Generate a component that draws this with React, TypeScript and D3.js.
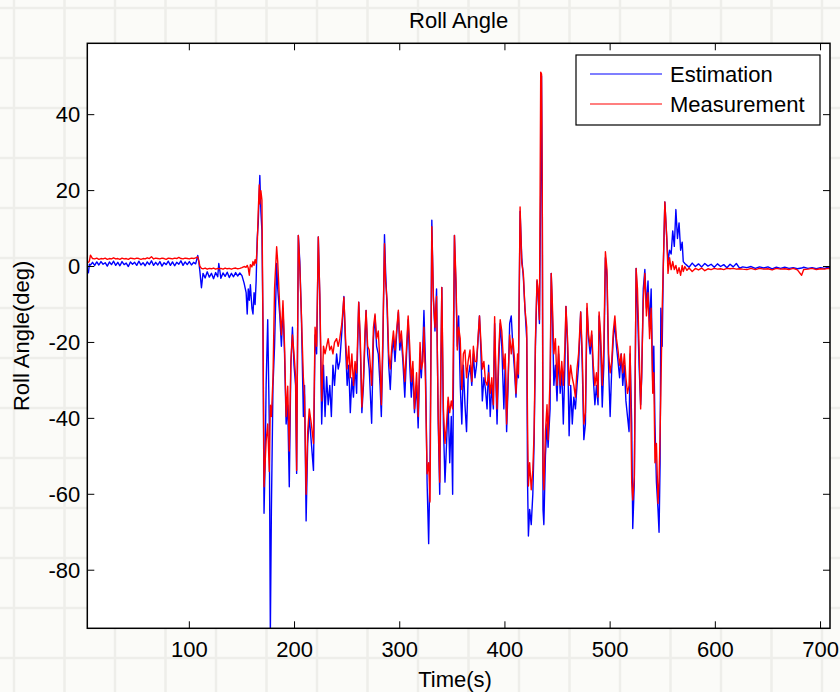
import React from "react";
import * as d3 from "d3";

// time axis (s) and the two roll angle traces (deg)
const timeS = [
  4, 5, 6, 8, 10, 12, 14, 16, 18, 20,
  22, 24, 26, 28, 30, 32, 34, 36, 38, 40,
  42, 44, 46, 48, 50, 52, 54, 56, 58, 60,
  62, 64, 66, 68, 70, 72, 74, 76, 78, 80,
  82, 84, 86, 88, 90, 92, 94, 96, 98, 100,
  102, 104, 106, 108, 109, 110, 111.5, 113, 115, 117,
  119, 121, 123, 125, 127, 128, 130, 132, 134, 136,
  138, 140, 142, 144, 146, 148, 150, 152, 154, 155,
  156, 157, 158, 159.5, 160.5, 161.5, 162.5, 163.5, 164.5, 165.5,
  166.5, 167, 168, 169, 170, 171, 172, 173, 174.5, 176,
  177, 178, 179.5, 181, 183, 184, 186, 187.5, 189, 190.5,
  192, 193.5, 195, 196.5, 198, 199.5, 201, 202, 203.6, 205,
  206.5, 208.4, 209.5, 211, 212.5, 214, 216, 218, 219.5, 221,
  222.6, 224, 225.8, 227.5, 229, 230.5, 232, 233.5, 235, 236.5,
  238, 240, 241.5, 243, 245, 246.9, 248.5, 250, 251.5, 253,
  254.5, 256, 257.5, 259, 261, 262.5, 264, 265.5, 267, 268,
  269.5, 271, 273.3, 275, 276.5, 278, 279.6, 281.3, 282.5, 284,
  285.5, 286.5, 288, 289.5, 291, 292.5, 294, 295.5, 297, 298.7,
  300, 301.5, 303, 304.8, 306.5, 308, 309.5, 311, 312.5, 314,
  316, 317.5, 319.3, 320.5, 322, 323, 324.5, 326, 327.5, 328.8,
  330.5, 332, 333.5, 335, 336.6, 338, 339, 340, 341.5, 343,
  344.5, 346, 347.5, 349, 350.3, 352, 353.5, 354.7, 356, 357.5,
  359, 360.5, 362, 363.5, 365, 366.8, 368.5, 370, 371.5, 373,
  375.8, 377, 378.5, 380, 381.5, 383, 384.5, 386, 387.5, 389,
  390.2, 391.5, 392.5, 394, 395.5, 397, 399, 400.3, 401.6, 403,
  404.5, 406, 407.5, 409, 410.5, 412, 412.8, 414.4, 416, 417.5,
  419, 420.7, 421.5, 422.3, 423.5, 425, 426.5, 427.7, 429, 430.5,
  431.5, 432.8, 434, 434.8, 435.5, 436.2, 437, 438.5, 440, 441,
  442.9, 444, 445, 446.5, 448, 449.5, 451, 452.5, 454, 455.5,
  457, 458, 459.5, 461, 462.5, 464, 465.5, 467, 468.5, 470,
  472, 473.5, 475, 476.5, 478, 479.5, 481, 482.5, 484, 485.5,
  487, 488.5, 489.5, 491, 492.5, 494, 495.5, 497, 498.5, 500,
  501.5, 503, 504.5, 506, 507.5, 509, 510.5, 512, 513.5, 515,
  516.5, 518, 519, 520.5, 521.5, 523, 524.7, 526, 527.5, 529,
  530, 531.5, 533, 534.5, 536, 537.5, 539, 540.5, 541.5, 542.6,
  544, 545.5, 546.5, 547.5, 548.2, 549.5, 550.5, 552, 553.8, 555,
  556.5, 558, 559.5, 561, 562.5, 564, 565.5, 567, 568.5, 569.5,
  571, 573, 575, 578, 581, 584, 587, 590, 593, 596,
  599, 602, 605, 608, 611, 614, 617, 620, 623, 626,
  630, 634, 638, 642, 646, 650, 654, 658, 662, 666,
  670, 674, 678, 682, 684, 688, 692, 696, 700, 704,
  707, 709
];

const estimation = [
  -1.8, 0.6, 0.4, 1.1, 0.3, 1.2, 0.4, 1.3, 0.6, 1.0,
  0.1, 1.2, 0.5, 1.4, 0.3, 1.1, 0.2, 1.3, 0.5, 0.9,
  0.0, 1.2, 0.6, 1.1, 0.3, 1.4, 0.4, 1.0, 0.2, 1.2,
  0.5, 1.5, 0.3, 1.1, 0.4, 1.3, 0.1, 1.0, 0.5, 1.4,
  0.3, 1.2, 0.2, 1.1, 0.6, 1.5, 0.3, 1.2, 0.5, 1.3,
  0.4, 1.1, 0.7, 2.9, 1.3, -1.2, -5.6, -1.8, -3.0, -1.4,
  -2.8, -1.8, -3.2, -1.6, -2.7, 0.8, -3.1, -1.7, -2.6, -1.5,
  -2.9, -1.8, -2.7, -1.6, -2.5, -1.7, -2.4, -4.3, -6.9, -12.5,
  -5.9, -8.9, -4.8, -11, -12.5, -6.9, -10, -3.8, 7.4, 11.5,
  20, 24, 14.5, 9.4, -16, -65, -52, -31, -14, -41.5,
  -97, -64, -31.5, -21, 0.8, -5.8, -13, -21, -11, -23,
  -41.5, -36.5, -58, -26, -16, -26, -31.3, -54.5, 8.2, 1.3,
  -13, -39.5, -31.3, -67, -46.6, -39.5, -46.6, -53.7, -18, -23,
  7.8, -7.9, -41.5, -26, -39.5, -29, -36.4, -31.3, -39.5, -26,
  -31.3, -23, -27, -25, -17, -7.9, -21, -31.3, -26, -38.5,
  -29.3, -34.4, -26, -33.4, -9.4, -21, -38.5, -31.3, -19, -11.6,
  -23, -27, -41.3, -19, -13, -21, -23, -31.3, -39.5, -21,
  8.4, -0.8, -11, -26, -32.4, -23, -19, -25, -18, -12,
  -22, -19, -25, -34.4, -23, -14, -26, -34.4, -27, -38.5,
  -31.3, -42.5, -23, -29.3, -21, -11.6, -26, -56.8, -73, -51.7,
  12.2, -9, -17, -5.9, -41.5, -60, -31.3, -5.5, -41.5, -56.8,
  -46.6, -35.4, -51.7, -39.5, -60, 8.2, -5.9, -21, -13, -31.3,
  -41.5, -26, -36.4, -43.5, -29.3, -26, -31.3, -23, -29.3, -26,
  -13, -21, -35.4, -29.3, -32.4, -37.5, -26, -39.5, -31.3, -37.5,
  -15, -31.3, -41.5, -26, -15, -21, -37.5, -25, -43.5, -31.3,
  -15, -13, -21, -27, -34.4, -25, -29.3, 14.5, 2.3, -2.8,
  -11, -19, -56.8, -71, -64, -68, -60, -46.6, -21, -3.8,
  -6.9, -15, 19.6, 50.2, 19.6, -64, -68, -49.7, -41.5, -47.6,
  -37.5, -1.8, -11, -31.3, -26, -35.4, -23, -33.4, -27, -41.5,
  -26, -10.5, -21, -44.6, -31.3, -41.5, -34.4, -37.5, -31.3, -26,
  -12, -26, -45.6, -41.5, -11, -19, -23, -18, -29.3, -36.4,
  -31.3, -36.4, -13, -21, -37, -26, 2.3, -2.8, -26, -39.5,
  -27, -19, -15, -21, -25, -29.3, -23, -31.3, -26, -35.4,
  -39.5, -43.5, -23, -41.5, -69, -56.8, -0.5, -11, -26, -36.4,
  -29.3, -5.9, -0.8, -11, -3.8, -16, -5.9, -31.3, -21, -41.5,
  -56.8, -64, -70, -51.7, -11, -21, -0.8, 17, 7.4, 1.3,
  4.3, 3.3, 9.4, 5.3, 15, 7.4, 11.5, 4.3, 6.4, 1.3,
  0.8, 0.3, -0.2, 0.9, 0.0, 0.7, -0.1, 0.8, 0.1, 0.6,
  -0.2, 0.7, 0.0, 0.5, -0.3, 0.6, -0.1, 0.8, -0.4, -0.1,
  -0.3, 0.0, -0.5, -0.1, -0.4, -0.1, -0.6, -0.2, -0.5, -0.2,
  -0.5, -0.3, -0.6, -0.4, -0.2, -0.5, -0.3, -0.6, -0.3, -0.5,
  -0.2, -0.4
];

const measurement = [
  1.0, 1.5, 3.0, 2.1, 2.0, 2.2, 1.9, 2.1, 2.0, 2.2,
  1.9, 2.1, 2.0, 2.3, 2.0, 2.1, 1.9, 2.2, 2.0, 2.1,
  1.9, 2.2, 2.1, 2.0, 2.2, 2.1, 1.9, 2.1, 2.0, 2.3,
  2.1, 2.6, 2.0, 2.2, 2.1, 2.0, 2.2, 2.1, 1.9, 2.2,
  2.1, 2.0, 2.2, 2.1, 2.4, 2.1, 2.0, 2.2, 2.1, 2.0,
  2.2, 2.1, 2.3, 2.5, 1.5, 0.1, -0.5, -0.6, -0.4, -0.7,
  -0.5, -0.6, -0.4, -0.7, -0.5, -0.6, -0.5, -0.7, -0.4, -0.6,
  -0.5, -0.7, -0.5, -0.4, -0.6, -0.5, -0.3, 0.0, -0.2, 0.3,
  -0.4, -2.3, 0.5, -0.1, 1.3, 0.3, 1.8, 0.8, 5.3, 14.5,
  21.5, 16.5, 20, 17.5, -16, -58, -52, -46, -41.5, -54,
  -36.5, -39.5, -29.5, -5.8, 5.2, 1.3, -11, -18, -9, -21,
  -39.5, -31.5, -48.6, -25, -18, -23, -29, -53.7, 8.2, -0.1,
  -12.5, -29.3, -34.4, -60, -43.6, -37.5, -41.5, -46.6, -16, -21,
  7.8, -7.2, -35.4, -21, -23, -21, -19, -22, -21, -23,
  -20, -19, -21, -19, -15, -8.1, -19, -27, -21, -29.3,
  -23, -31.3, -25, -28, -9.4, -19, -37, -29.3, -17, -11.6,
  -21, -22, -31.3, -16, -12.5, -19, -17, -26, -36.4, -18,
  6, -3.8, -9, -23, -27, -21, -17, -22, -17, -11.5,
  -20, -17, -23, -30.3, -21, -13, -21, -30.3, -25, -37.5,
  -28, -39.5, -20, -27, -25, -16, -31.3, -54.6, -51.7, -62,
  10.5, -7.9, -16, -7.9, -39.5, -56.8, -26, -5.5, -37.5, -46.6,
  -41.5, -34.4, -38.5, -35.4, -37.5, 8.2, -3.8, -22, -16, -19,
  -32.4, -23, -22, -29.3, -25, -22, -30.3, -21, -25, -25,
  -13, -19, -27, -25, -30.3, -31.3, -28, -33.4, -29.3, -36.4,
  -13.2, -29.3, -37.5, -23, -14, -17, -27, -23, -41.5, -29.3,
  -18, -23, -19, -24, -33.4, -23, -28.3, 15.7, 0.9, -1.8,
  -11, -16, -41.5, -57.8, -51.7, -58.8, -53.7, -44, -19, -3.5,
  -5.9, -14, 51.2, 50.7, 19.6, -53.7, -58.8, -43.5, -36.4, -45.6,
  -29.3, -1.8, -9, -23, -19, -31.3, -21, -31.3, -25, -31.3,
  -21, -10.5, -19, -31.3, -26, -29.3, -31.3, -34.4, -27, -23,
  -12, -23, -41.5, -38.5, -9.7, -18, -21, -17, -26, -31.3,
  -28, -34.4, -12, -18, -31.3, -21, 3.9, -0.8, -23, -28,
  -25, -17, -13, -19, -22, -26, -23, -28, -23, -29.3,
  -33.4, -31.3, -21, -56.8, -61.5, -55.4, -0.5, -5.9, -21, -37.5,
  -28, -9, -1.8, -13, -6.9, -19, -11, -33.4, -28, -51.7,
  -46.6, -62.4, -56.8, -43.5, -33.4, -11, 0.1, 17, 7.9, -1.8,
  2.3, -0.8, 1.3, -0.8, 0.3, -1.8, -0.3, -2.3, 0.3, -1.3,
  0.0, -1.0, -0.4, -1.3, -0.5, -0.9, -0.4, -1.1, -0.6, -0.8,
  -0.5, -0.7, -0.6, -0.8, -0.5, -0.6, -0.5, -0.7, -0.6, -0.7,
  -0.8, -0.5, -0.8, -0.5, -0.7, -0.6, -0.9, -0.5, -0.7, -0.6,
  -0.8, -0.5, -0.9, -2.3, -0.8, -0.7, -0.5, -0.8, -0.6, -0.7,
  -0.5, -0.6
];

const xTicks = [100, 200, 300, 400, 500, 600, 700];
const yTicks = [-80, -60, -40, -20, 0, 20, 40];
const seriesNames = ["Estimation", "Measurement"];
const seriesColors = ["#0000ff", "#ff0000"];

const W = 840;
const H = 692;
const plot = { left: 87.3, right: 830, top: 43.3, bottom: 628.3 };
const FONT = '"Liberation Sans", Arial, Helvetica, sans-serif';
const TICK = 7;

export default function App() {
  const x = d3.scaleLinear().domain([3, 709]).range([plot.left, plot.right]);
  const y = d3.scaleLinear().domain([-95.3, 58.8]).range([plot.bottom, plot.top]);

  const n = Math.min(timeS.length, estimation.length, measurement.length);
  const idx = d3.range(n);
  const pathFor = (vals: number[]) =>
    d3
      .line<number>()
      .x(i => x(timeS[i]))
      .y(i => y(vals[i]))(idx) || "";

  const gridX = d3.range(14, W, 50.5);
  const gridY = d3.range(8, H, 50);
  const midX = (plot.left + plot.right) / 2;
  const midY = (plot.top + plot.bottom) / 2;

  return (
    <svg
      width={W}
      height={H}
      style={{ position: "absolute", left: 0, top: 0, display: "block" }}
      fontFamily={FONT}
    >
      {/* graph paper backdrop */}
      <rect x={0} y={0} width={W} height={H} fill="#fbfbf8" />
      {gridX.map(gx => (
        <line key={"gx" + gx} x1={gx} x2={gx} y1={0} y2={H} stroke="#eeeeea" strokeWidth={2.5} />
      ))}
      {gridY.map(gy => (
        <line key={"gy" + gy} x1={0} x2={W} y1={gy} y2={gy} stroke="#eeeeea" strokeWidth={2.5} />
      ))}

      <defs>
        <clipPath id="plot-clip">
          <rect x={plot.left} y={plot.top} width={plot.right - plot.left} height={plot.bottom - plot.top} />
        </clipPath>
      </defs>

      <rect
        x={plot.left}
        y={plot.top}
        width={plot.right - plot.left}
        height={plot.bottom - plot.top}
        fill="#ffffff"
      />

      <g clipPath="url(#plot-clip)" fill="none" strokeWidth={1.4} strokeLinejoin="round">
        <path d={pathFor(estimation)} stroke={seriesColors[0]} />
        <path d={pathFor(measurement)} stroke={seriesColors[1]} />
      </g>

      {/* ticks, inward on all four sides */}
      <g stroke="#000" strokeWidth={1}>
        {xTicks.map(t => (
          <g key={"xt" + t}>
            <line x1={x(t)} x2={x(t)} y1={plot.bottom} y2={plot.bottom - TICK} />
            <line x1={x(t)} x2={x(t)} y1={plot.top} y2={plot.top + TICK} />
          </g>
        ))}
        {yTicks.map(t => (
          <g key={"yt" + t}>
            <line x1={plot.left} x2={plot.left + TICK} y1={y(t)} y2={y(t)} />
            <line x1={plot.right} x2={plot.right - TICK} y1={y(t)} y2={y(t)} />
          </g>
        ))}
      </g>

      <rect
        x={plot.left}
        y={plot.top}
        width={plot.right - plot.left}
        height={plot.bottom - plot.top}
        fill="none"
        stroke="#000"
        strokeWidth={1.5}
      />

      <g fontSize={22} fill="#000">
        {xTicks.map(t => (
          <text key={"xl" + t} x={x(t)} y={plot.bottom + 29} textAnchor="middle">
            {t}
          </text>
        ))}
        {yTicks.map(t => (
          <text key={"yl" + t} x={plot.left - 7} y={y(t)} dy="0.35em" textAnchor="end">
            {t}
          </text>
        ))}
        <text x={midX} y={28} textAnchor="middle">Roll Angle</text>
        <text x={455} y={687} textAnchor="middle">Time(s)</text>
        <text transform={`translate(29,${midY}) rotate(-90)`} textAnchor="middle">
          Roll Angle(deg)
        </text>
      </g>

      {/* legend */}
      <g>
        <rect x={576} y={55} width={244} height={70} fill="#ffffff" stroke="#000" strokeWidth={1.2} />
        {seriesNames.map((name, i) => (
          <g key={name}>
            <line x1={590} x2={662} y1={74 + i * 30} y2={74 + i * 30} stroke={seriesColors[i]} strokeWidth={1.2} />
            <text x={670} y={82 + i * 30} fontSize={22} fill="#000">
              {name}
            </text>
          </g>
        ))}
      </g>
    </svg>
  );
}
